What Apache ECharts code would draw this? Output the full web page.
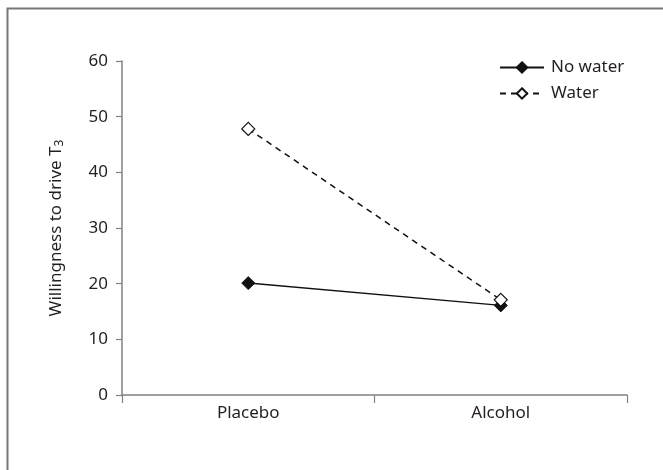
<!DOCTYPE html>
<html>
<head>
<meta charset="utf-8">
<script src="https://cdn.jsdelivr.net/npm/echarts@6/dist/echarts.min.js"></script>
<style>html,body{margin:0;padding:0;background:#fff}#c{width:663px;height:470px}</style>
</head>
<body>
<div id="c"></div>
<script>
const categories = ['Placebo', 'Alcohol'];
const noWater = [20.1, 16.1];
const water = [47.8, 17.1];
const yTicks = { min: 0, max: 60, interval: 10 };

const chart = echarts.init(document.getElementById('c'), null, { renderer: 'canvas' });
const font = 'Noto Sans';
const textColor = '#231f20';
const axisColor = '#808080';
chart.setOption({
  animation: false,
  textStyle: { fontFamily: font },
  graphic: [{
    type: 'rect', left: 5, top: 6, shape: { x: 0, y: 0, width: 700, height: 500 },
    style: { fill: 'none', stroke: '#777', lineWidth: 2 }, silent: true
  }],
  grid: { left: 122, right: 36, top: 61, bottom: 75 },
  legend: {
    left: 494, top: 54, orient: 'vertical', itemWidth: 44, itemHeight: 13, itemGap: 9,
    textStyle: { fontFamily: font, fontSize: 17, color: textColor, padding: [0, 0, 0, 2] },
    data: ['No water', 'Water']
  },
  xAxis: {
    type: 'category', data: categories, boundaryGap: true,
    axisLine: { lineStyle: { color: axisColor, width: 1.5 } },
    axisTick: { show: true, length: 8, lineStyle: { color: axisColor, width: 1.2 }, alignWithLabel: false },
    axisLabel: { fontFamily: font, fontSize: 17, color: textColor, margin: 10 }
  },
  yAxis: {
    type: 'value', min: yTicks.min, max: yTicks.max, interval: yTicks.interval,
    splitLine: { show: false },
    axisLine: { show: true, lineStyle: { color: axisColor, width: 1.5 } },
    axisTick: { show: true, length: 6, lineStyle: { color: axisColor, width: 1.2 } },
    axisLabel: { fontFamily: font, fontSize: 17, color: textColor, margin: 14 },
    name: 'Willingness to drive T{sub|3}', nameLocation: 'middle', nameGap: 56, nameRotate: 90,
    nameTextStyle: {
      fontFamily: font, fontSize: 17, color: textColor,
      rich: { sub: { fontFamily: font, fontSize: 12, color: textColor, verticalAlign: 'bottom', padding: [8, 0, 0, 0] } }
    }
  },
  series: [
    {
      name: 'No water', type: 'line', data: noWater, symbol: 'diamond', symbolSize: 13,
      lineStyle: { color: '#111', width: 1.5, type: 'solid' },
      itemStyle: { color: '#111', borderColor: '#111', borderWidth: 1 }
    },
    {
      name: 'Water', type: 'line', data: water, symbol: 'diamond', symbolSize: 13,
      lineStyle: { color: '#111', width: 1.5, type: [6, 5] },
      itemStyle: { color: '#fff', borderColor: '#111', borderWidth: 1.2 }
    }
  ]
});
</script>
</body>
</html>
